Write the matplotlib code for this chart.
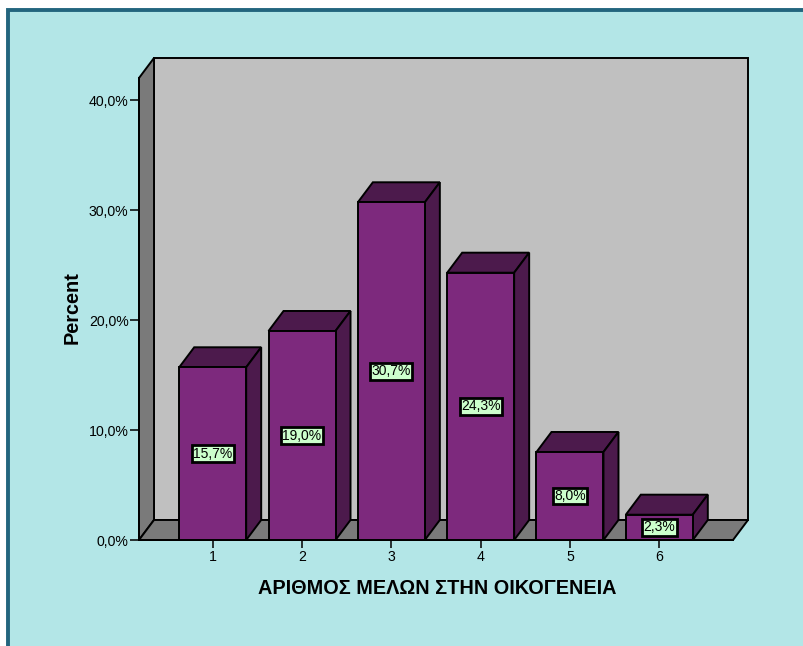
import matplotlib
matplotlib.use("Agg")
import matplotlib.pyplot as plt
from matplotlib.patches import Polygon, Rectangle

plt.rcParams['font.family'] = ['Liberation Sans', 'DejaVu Sans']

# members per household and share of families
categories = [1, 2, 3, 4, 5, 6]
percents = [15.7, 19.0, 30.7, 24.3, 8.0, 2.3]
y_ticks = [0, 10, 20, 30, 40]
x_title = 'ΑΡΙΘΜΟΣ ΜΕΛΩΝ ΣΤΗΝ ΟΙΚΟΓΕΝΕΙΑ'
y_title = 'Percent'


def pct(v):
    return f'{v:.1f}%'.replace('.', ',')


W, H = 804, 646
fig = plt.figure(figsize=(W / 100, H / 100), dpi=100, facecolor='white')

# cyan panel with dark frame on top/left
fig.patches.append(Rectangle((8 / W, -0.1), 1.2, 1.1 - 10.5 / H,
                             transform=fig.transFigure, facecolor='#B3E6E7',
                             edgecolor='#23657E', linewidth=2.8, zorder=-1))

ax = fig.add_axes([139 / W, 106 / H, 594 / W, 462 / H])
ax.set_facecolor('none')
for s in ax.spines.values():
    s.set_visible(False)

x0, x1 = 0.175, 6.825
ytop = 42
ax.set_xlim(x0, x1)
ax.set_ylim(0, ytop)

# depth of the 3d effect in data units
dx, dy = 0.168, 1.82
lw = 1.4

back = Rectangle((x0 + dx, dy), x1 - x0, ytop, facecolor='#C0C0C0',
                 edgecolor='black', linewidth=lw, clip_on=False, zorder=1)
left = Polygon([(x0, 0), (x0 + dx, dy), (x0 + dx, ytop + dy), (x0, ytop)],
               facecolor='#7A7A7A', edgecolor='black', linewidth=lw,
               clip_on=False, zorder=1)
floor = Polygon([(x0, 0), (x1, 0), (x1 + dx, dy), (x0 + dx, dy)],
                facecolor='#7A7A7A', edgecolor='black', linewidth=lw,
                clip_on=False, zorder=1)
for p in (back, left, floor):
    ax.add_patch(p)

bw = 0.75
front_c = '#7D297D'
dark_c = '#4C1A4C'
for c, h in zip(categories, percents):
    a, b = c - bw / 2, c + bw / 2
    ax.add_patch(Polygon([(a, h), (b, h), (b + dx, h + dy), (a + dx, h + dy)],
                         facecolor=dark_c, edgecolor='black', linewidth=lw,
                         clip_on=False, zorder=3))
    ax.add_patch(Polygon([(b, 0), (b + dx, dy), (b + dx, h + dy), (b, h)],
                         facecolor=dark_c, edgecolor='black', linewidth=lw,
                         clip_on=False, zorder=3))
ax.bar(categories, percents, width=bw, color=front_c, edgecolor='black',
       linewidth=lw, zorder=4, clip_on=False)

for c, h in zip(categories, percents):
    ax.text(c, h / 2, pct(h), ha='center', va='center', fontsize=10, zorder=6,
            bbox=dict(boxstyle='square,pad=0.1', facecolor='#CCFFCC',
                      edgecolor='black', linewidth=2))

ax.plot([x0, x0], [0, ytop], color='black', linewidth=lw, zorder=2,
        clip_on=False)
ax.plot([x0, x1], [0, 0], color='black', linewidth=lw, zorder=5,
        clip_on=False)

ax.set_yticks(y_ticks)
ax.set_yticklabels([pct(v) for v in y_ticks])
ax.set_xticks(categories)
ax.set_xticklabels([str(c) for c in categories])
ax.tick_params(axis='y', direction='out', length=6.5, width=1.1,
               labelsize=10.2, pad=1)
ax.tick_params(axis='x', direction='out', length=5.5, width=1.1,
               labelsize=10.2, pad=2)

fig.text(437 / W, 1 - 589 / H, x_title, ha='center', va='center',
         fontsize=14.3, fontweight='bold')
fig.text(72 / W, 1 - 308 / H, y_title, ha='center', va='center',
         rotation=90, fontsize=14.3, fontweight='bold')

fig.savefig('out.png', dpi=100, facecolor='white')
